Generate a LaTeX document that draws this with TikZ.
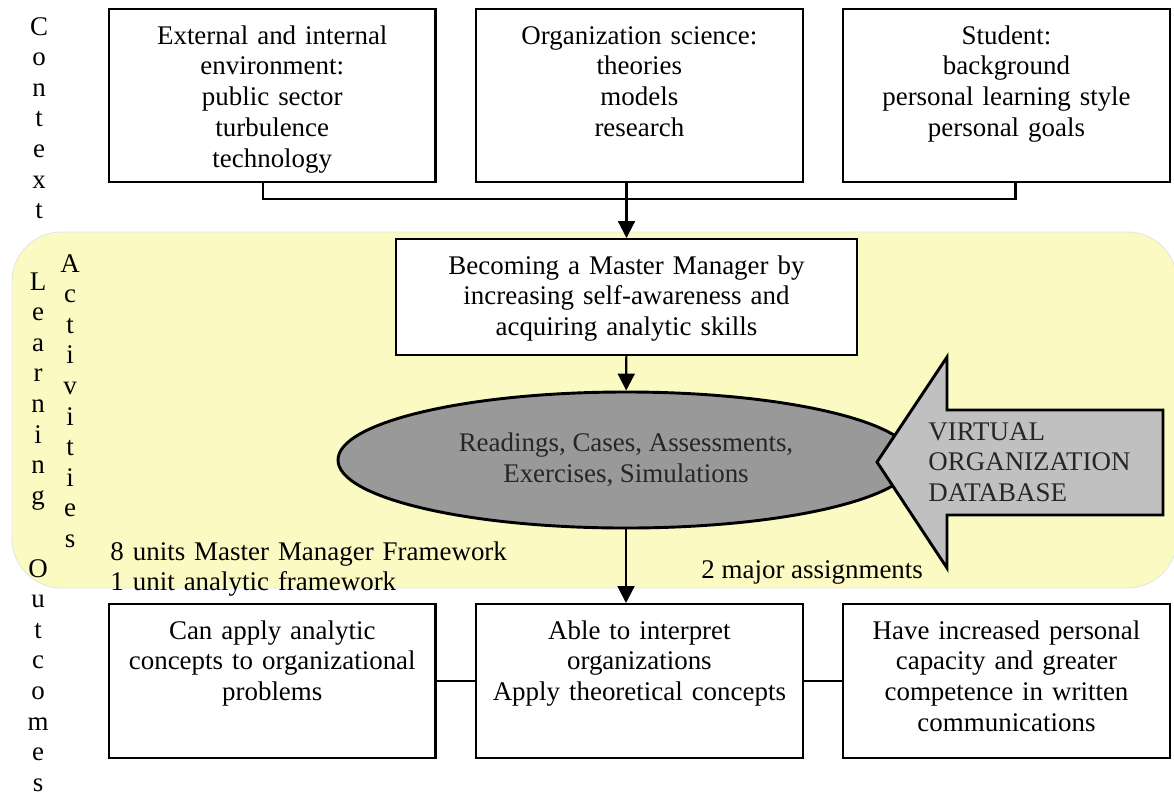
\documentclass[tikz,border=0pt]{standalone}
\usepackage{fontspec}
\setmainfont{Liberation Serif}
\usepackage{tikz}
\usetikzlibrary{arrows.meta, positioning, shapes}
\usetikzlibrary{shapes.geometric}
\usepackage{xcolor}

\definecolor{learnyellow}{RGB}{250,250,194}
\definecolor{readgray}{RGB}{153,153,153}
\definecolor{dbgray}{RGB}{192,192,192}

\begin{document}
\begin{tikzpicture}[x=0.4455pt, y=-0.4455pt, node distance=17.2pt, font=\fontsize{12pt}{13.7pt}\selectfont]
            \tikzstyle{box} = [rectangle, draw, line width=0.95pt, fill=white, text width=137.4pt, align=center, inner xsep=4pt, inner ysep=0pt, text height=15.6pt]
            \tikzstyle{topbox} = [box, text depth=61.5pt]
            \tikzstyle{outbox} = [box, text depth=53pt]
            \tikzstyle{line} = [draw, line width=0.95pt]
            \tikzstyle{arrow} = [line, -{Triangle[length=7.5pt, width=7.5pt]}]
            \tikzstyle{letter} = [inner sep=0pt, anchor=base]

            \useasboundingbox (0,0) rectangle (1174,798);

            % 背景色块
            \fill[learnyellow, draw=black!10, rounded corners=22pt] (12,232) rectangle (1177,588);

            % 竖排文字
            \foreach \ch [count=\i from 0] in {C,o,n,t,e,x,t}
                \node[letter] (context\i) at (39, 35+30.6*\i) {\ch};
            \foreach \ch [count=\i from 0] in {L,e,a,r,n,i,n,g}
                \node[letter] (learning\i) at (38, 290+30.6*\i) {\ch};
            \foreach \ch [count=\i from 0] in {O,u,t,c,o,m,e,s}
                \node[letter] (outcomes\i) at (38, 577+30.6*\i) {\ch};
            \foreach \ch [count=\i from 0] in {A,c,t,i,v,i,t,i,e,s}
                \node[letter] (activities\i) at (70, 272+30.6*\i) {\ch};

            % 上层方框
            \node[topbox, anchor=north west] (env) at (108,8) {External and internal \\ environment: \\ public sector \\ turbulence \\ technology};
            \node[topbox, right=of env] (science) {Organization science: \\ theories \\ models \\ research};
            \node[topbox, right=of science] (student) {Student: \\ background \\ personal learning style \\ personal goals};

            % 中间节点
            \node[box, text width=197.4pt, text depth=36.1pt, anchor=north] (master) at (626.5,238) {Becoming a Master Manager by \\ increasing self-awareness and \\ acquiring analytic skills};
            \node[ellipse, draw, line width=1.3pt, fill=readgray, text=black!85, align=center, inner sep=0pt, minimum width=256.6pt, minimum height=60.6pt] (readings) at (626,460) {Readings, Cases, Assessments, \\ Exercises, Simulations};

            % 数据库箭头
            \draw[line width=1.3pt, fill=dbgray] (877,462) -- (947,357) -- (947,410) -- (1163,410) -- (1163,515) -- (947,515) -- (947,568) -- cycle;
            \node[anchor=base west, text width=110pt, align=left, inner sep=0pt, text=black!85] (database) at (928,440) {VIRTUAL \\ ORGANIZATION \\ DATABASE};

            \node[anchor=base west, text width=220pt, align=left, inner sep=0pt] (units) at (110,560) {8 units Master Manager Framework \\ 1 unit analytic framework};
            \node[anchor=base west, inner sep=0pt] (assignments) at (701,578) {2 major assignments};

            % 下层方框
            \node[outbox, anchor=north west] (apply) at (108,603) {Can apply analytic \\ concepts to organizational \\ problems};
            \node[outbox, right=of apply] (interpret) {Able to interpret \\ organizations \\ Apply theoretical concepts};
            \node[outbox, right=of interpret] (capacity) {Have increased personal \\ capacity and greater \\ competence in written \\ communications};

            % 添加连线
            \coordinate (join) at (627,199);
            \path [line] ([xshift=-4pt]env.south) |- (join) -| ([xshift=4pt]student.south);
            \path [arrow] (master.north |- science.south) -- (master.north);
            \path [arrow] (master) -- (readings);
            \path [arrow] (readings.south) -- (readings.south |- interpret.north);
            \path [line] (apply) -- (interpret);
            \path [line] (interpret) -- (capacity);
        \end{tikzpicture}
\end{document}
